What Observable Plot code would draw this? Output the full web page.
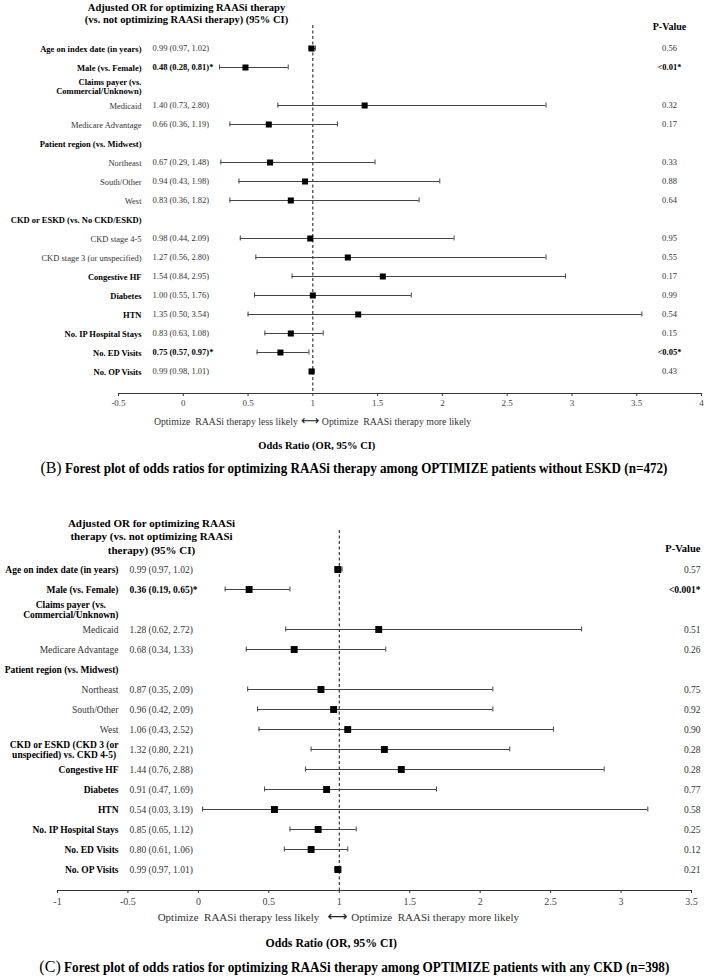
<!DOCTYPE html>
<html>
<head>
<meta charset="utf-8">
<script src="https://cdn.jsdelivr.net/npm/d3@7"></script>
<script src="https://cdn.jsdelivr.net/npm/@observablehq/plot@0.6"></script>
<style>
  body { margin: 0; background: #fff; }
  #wrap { position: relative; width: 708px; height: 980px; font-family: "Liberation Serif", "Times New Roman", serif; }
  .panel { position: absolute; left: 0; }
  .cap { position: absolute; left: 0; width: 708px; text-align: center; white-space: nowrap; color: #000; }
  .cap .inner { display: inline-block; transform-origin: center center; }
  .cap .lt { font-size: 17px; font-weight: normal; }
  .cap .tx { font-size: 14px; font-weight: bold; }
</style>
</head>
<body>
<div id="wrap">
  <div id="pB" class="panel" style="top:0px"></div>
  <div id="capB" class="cap" style="top:458px;height:20px;line-height:20px"></div>
  <div id="pC" class="panel" style="top:495px"></div>
  <div id="capC" class="cap" style="top:957px;height:20px;line-height:20px"></div>
</div>
<script>
// ---------- Panel B data ----------
const bLabels = ["Age on index date (in years)", "Male (vs. Female)", "Claims payer (vs.\nCommercial/Unknown)",
  "Medicaid", "Medicare Advantage", "Patient region (vs. Midwest)", "Northeast", "South/Other", "West",
  "CKD or ESKD (vs. No CKD/ESKD)", "CKD stage 4-5", "CKD stage 3 (or unspecified)", "Congestive HF",
  "Diabetes", "HTN", "No. IP Hospital Stays", "No. ED Visits", "No. OP Visits"];
const bLevel = [0, 0, 0, 1, 1, 0, 1, 1, 1, 0, 1, 1, 0, 0, 0, 0, 0, 0];
const bOR = [0.99, 0.48, null, 1.40, 0.66, null, 0.67, 0.94, 0.83, null, 0.98, 1.27, 1.54, 1.00, 1.35, 0.83, 0.75, 0.99];
const bLo = [0.97, 0.28, null, 0.73, 0.36, null, 0.29, 0.43, 0.36, null, 0.44, 0.56, 0.84, 0.55, 0.50, 0.63, 0.57, 0.98];
const bHi = [1.02, 0.81, null, 2.80, 1.19, null, 1.48, 1.98, 1.82, null, 2.09, 2.80, 2.95, 1.76, 3.54, 1.08, 0.97, 1.01];
const bP = ["0.56", "<0.01*", "", "0.32", "0.17", "", "0.33", "0.88", "0.64", "", "0.95", "0.55", "0.17", "0.99", "0.54", "0.15", "<0.05*", "0.43"];
const bTicks = [-0.5, 0, 0.5, 1, 1.5, 2, 2.5, 3, 3.5, 4];
const bHeader = "Adjusted OR for optimizing RAASi therapy\n(vs. not optimizing RAASi therapy) (95% CI)";
const bCaptionLetter = "(B)";
const bCaption = "Forest plot of odds ratios for optimizing RAASi therapy among OPTIMIZE patients without ESKD (n=472)";

// ---------- Panel C data ----------
const cLabels = ["Age on index date (in years)", "Male (vs. Female)", "Claims payer (vs.\nCommercial/Unknown)",
  "Medicaid", "Medicare Advantage", "Patient region (vs. Midwest)", "Northeast", "South/Other", "West",
  "CKD or ESKD (CKD 3 (or\nunspecified) vs. CKD 4-5)", "Congestive HF", "Diabetes", "HTN",
  "No. IP Hospital Stays", "No. ED Visits", "No. OP Visits"];
const cLevel = [0, 0, 0, 1, 1, 0, 1, 1, 1, 0, 0, 0, 0, 0, 0, 0];
const cOR = [0.99, 0.36, null, 1.28, 0.68, null, 0.87, 0.96, 1.06, 1.32, 1.44, 0.91, 0.54, 0.85, 0.80, 0.99];
const cLo = [0.97, 0.19, null, 0.62, 0.34, null, 0.35, 0.42, 0.43, 0.80, 0.76, 0.47, 0.03, 0.65, 0.61, 0.97];
const cHi = [1.02, 0.65, null, 2.72, 1.33, null, 2.09, 2.09, 2.52, 2.21, 2.88, 1.69, 3.19, 1.12, 1.06, 1.01];
const cP = ["0.57", "<0.001*", "", "0.51", "0.26", "", "0.75", "0.92", "0.90", "0.28", "0.28", "0.77", "0.58", "0.25", "0.12", "0.21"];
const cTicks = [-1, -0.5, 0, 0.5, 1, 1.5, 2, 2.5, 3, 3.5];
const cHeader = "Adjusted OR for optimizing RAASi\ntherapy (vs. not optimizing RAASi\ntherapy) (95% CI)";
const cCaptionLetter = "(C)";
const cCaption = "Forest plot of odds ratios for optimizing RAASi therapy among OPTIMIZE patients with any CKD (n=398)";

// shared texts
const refValue = [1];
const pHeader = "P-Value";
const lessText = "Optimize  RAASi therapy less likely";
const moreText = "Optimize  RAASi therapy more likely";
const arrowText = "\u27F7";
const xTitle = "Odds Ratio (OR, 95% CI)";

const FONT = '"Liberation Serif", "Times New Roman", serif';

function forest(o) {
  const rows = o.labels.map((label, i) => ({
    label, level: o.level[i], or: o.or[i], lo: o.lo[i], hi: o.hi[i], p: o.p[i],
    sig: o.p[i].includes("*")
  }));
  const est = rows.filter(d => d.or != null);
  const valueText = d => `${d.or.toFixed(2)} (${d.lo.toFixed(2)}, ${d.hi.toFixed(2)})${d.sig ? "*" : ""}`;
  const fs = o.fs;
  const regular = "#333";
  return Plot.plot({
    width: 708,
    height: o.height,
    marginLeft: o.marginLeft,
    marginRight: o.marginRight,
    marginTop: o.marginTop,
    marginBottom: o.marginBottom,
    style: { fontFamily: FONT, fontSize: fs + "px", color: regular, background: "#fff", overflow: "visible" },
    x: { domain: [o.ticks[0], o.ticks[o.ticks.length - 1]] },
    y: { type: "point", domain: o.labels, padding: 0, insetTop: o.insetTop, insetBottom: o.insetBottom, axis: null },
    marks: [
      Plot.frame({ anchor: "bottom", stroke: "#333", strokeWidth: 1.2 }),
      Plot.axisX({ ticks: o.ticks, tickFormat: d => String(d), tickSize: 3, tickPadding: o.tickPadding,
        fontSize: o.tickFs, fill: "#444", stroke: "#333", label: null }),
      Plot.ruleX(refValue, { stroke: "#111", strokeDasharray: "3,2.5", strokeWidth: 1 }),
      Plot.ruleY(est, { y: "label", x1: "lo", x2: "hi", stroke: "#444", strokeWidth: 1 }),
      Plot.ruleX(est, { x: "lo", y1: "label", y2: "label", stroke: "#444", strokeWidth: 1, insetTop: -2.5, insetBottom: -2.5 }),
      Plot.ruleX(est, { x: "hi", y1: "label", y2: "label", stroke: "#444", strokeWidth: 1, insetTop: -2.5, insetBottom: -2.5 }),
      Plot.dot(est, { x: "or", y: "label", symbol: "square", r: o.r, fill: "#000", stroke: null }),
      // row labels
      Plot.text(rows.filter(d => d.level === 0), { y: "label", text: "label", frameAnchor: "left", dx: o.labelDx,
        textAnchor: "end", fontWeight: "bold", fill: "#000", lineHeight: 1.1, fontSize: fs }),
      Plot.text(rows.filter(d => d.level === 1), { y: "label", text: "label", frameAnchor: "left", dx: o.labelDx,
        textAnchor: "end", fill: regular, lineHeight: 1.1, fontSize: fs }),
      // estimate text
      Plot.text(est.filter(d => !d.sig), { y: "label", text: valueText, frameAnchor: "left", dx: o.valueDx,
        textAnchor: "start", fill: regular, fontSize: fs }),
      Plot.text(est.filter(d => d.sig), { y: "label", text: valueText, frameAnchor: "left", dx: o.valueDx,
        textAnchor: "start", fill: "#000", fontWeight: "bold", fontSize: fs }),
      // p-values
      Plot.text(est.filter(d => !d.sig), { y: "label", text: "p", frameAnchor: "right", dx: o.pDx,
        textAnchor: o.pAnchor, fill: regular, fontSize: fs }),
      Plot.text(est.filter(d => d.sig), { y: "label", text: "p", frameAnchor: "right", dx: o.pDx,
        textAnchor: o.pAnchor, fill: "#000", fontWeight: "bold", fontSize: fs }),
      // headers
      Plot.text([o.header], { text: d => d, frameAnchor: "top-left", dx: o.headerDx, dy: o.headerDy,
        textAnchor: "middle", lineAnchor: "middle", fontWeight: "bold", fill: "#000",
        fontSize: o.headerFs, lineHeight: o.headerLh }),
      Plot.text([pHeader], { text: d => d, frameAnchor: "top-right", dx: o.pDx, dy: o.pHeadDy,
        textAnchor: o.pAnchor, lineAnchor: "middle", fontWeight: "bold", fill: "#000", fontSize: o.headerFs - 0.5 }),
      // direction annotation
      Plot.text(refValue, { x: d => d, text: () => lessText, frameAnchor: "bottom", dy: o.annDy, dx: o.lessDx,
        textAnchor: "end", fill: regular, fontSize: o.annFs }),
      Plot.text(refValue, { x: d => d, text: () => arrowText, frameAnchor: "bottom", dy: o.annDy, dx: o.arrowDx,
        textAnchor: "middle", fill: "#222", fontSize: o.annFs + 3, fontFamily: "DejaVu Sans" }),
      Plot.text(refValue, { x: d => d, text: () => moreText, frameAnchor: "bottom", dy: o.annDy, dx: o.moreDx,
        textAnchor: "start", fill: regular, fontSize: o.annFs }),
      Plot.text(refValue, { x: d => d, text: () => xTitle, frameAnchor: "bottom", dy: o.titleDy, dx: o.titleDx,
        textAnchor: "middle", fill: "#000", fontWeight: "bold", fontSize: o.titleFs })
    ]
  });
}

// Center the lines of two-line row labels within their (right-aligned) block
function centerMultiline(svg) {
  svg.querySelectorAll("g[text-anchor='end'] > text").forEach(t => {
    const spans = t.querySelectorAll("tspan");
    if (spans.length < 2) return;
    const w = Math.max(...Array.from(spans, s => s.getComputedTextLength()));
    t.setAttribute("text-anchor", "middle");
    spans.forEach(s => s.setAttribute("x", -w / 2));
  });
}

const plotB = forest({
  labels: bLabels, level: bLevel, or: bOR, lo: bLo, hi: bHi, p: bP, ticks: bTicks, header: bHeader,
  height: 458, marginLeft: 118, marginRight: 7, marginTop: 25, marginBottom: 65, insetTop: 19, insetBottom: 19,
  fs: 8.5, tickFs: 9, tickPadding: 3, r: 3.4,
  labelDx: 23, valueDx: 34, pDx: -32, pAnchor: "middle",
  headerDx: 68, headerDy: -12, headerFs: 10.5, headerLh: 1.15, pHeadDy: 1,
  annDy: 31, lessDx: -15, arrowDx: -3, moreDx: 9, annFs: 9.8,
  titleDy: 55, titleDx: 4, titleFs: 10.5
});
document.getElementById("pB").appendChild(plotB);

const plotC = forest({
  labels: cLabels, level: cLevel, or: cOR, lo: cLo, hi: cHi, p: cP, ticks: cTicks, header: cHeader,
  height: 460, marginLeft: 57, marginRight: 17, marginTop: 35, marginBottom: 65, insetTop: 38, insetBottom: 21,
  fs: 9.5, tickFs: 10, tickPadding: 4, r: 3.9,
  labelDx: 61, valueDx: 72, pDx: 9, pAnchor: "end",
  headerDx: 94, headerDy: 5.5, headerFs: 11, headerLh: 1.23, pHeadDy: 18,
  annDy: 30, lessDx: -20, arrowDx: -2, moreDx: 12, annFs: 11,
  titleDy: 56, titleDx: -8, titleFs: 11.8
});
document.getElementById("pC").appendChild(plotC);
centerMultiline(plotC);

function caption(id, letter, text, targetWidth) {
  const el = document.getElementById(id);
  const inner = document.createElement("span");
  inner.className = "inner";
  const a = document.createElement("span"); a.className = "lt"; a.textContent = letter;
  const b = document.createElement("span"); b.className = "tx"; b.textContent = " " + text;
  inner.appendChild(a); inner.appendChild(b);
  el.appendChild(inner);
  const w = inner.getBoundingClientRect().width;
  if (w > 0) inner.style.transform = `scaleX(${targetWidth / w})`;
}
caption("capB", bCaptionLetter, bCaption, 627);
caption("capC", cCaptionLetter, cCaption, 630);
</script>
</body>
</html>
